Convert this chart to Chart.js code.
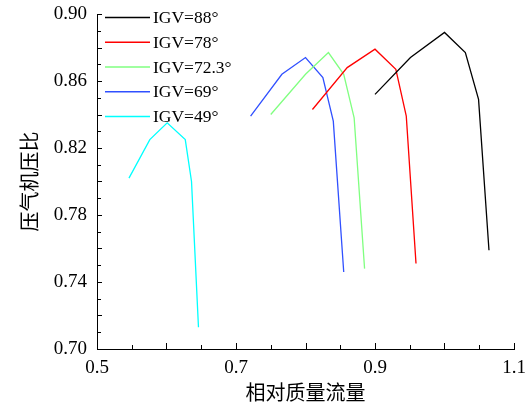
<!DOCTYPE html>
<html>
<head>
<meta charset="utf-8">
<script src="https://cdn.jsdelivr.net/npm/chart.js@4/dist/chart.umd.min.js"></script>
<style>
  html, body { margin: 0; padding: 0; background: #fff; }
  #wrap { width: 531px; height: 410px; }
</style>
</head>
<body>
<div id="wrap"><canvas id="ratio-chart" width="531" height="410"></canvas></div>
<script>
// mass flow / pressure ratio points for each IGV setting
const seriesNames = ['IGV=88°', 'IGV=78°', 'IGV=72.3°', 'IGV=69°', 'IGV=49°'];
const seriesColors = ['#000000', '#ff0000', '#80ff80', '#3050ff', '#00ffff'];

const flow88 = [0.900, 0.951, 1.000, 1.030, 1.049, 1.064];
const ratio88 = [0.852, 0.874, 0.889, 0.877, 0.849, 0.759];

const flow78 = [0.810, 0.860, 0.900, 0.930, 0.945, 0.959];
const ratio78 = [0.843, 0.868, 0.879, 0.867, 0.839, 0.751];

const flow723 = [0.750, 0.800, 0.833, 0.855, 0.870, 0.885];
const ratio723 = [0.840, 0.864, 0.877, 0.864, 0.838, 0.748];

const flow69 = [0.721, 0.766, 0.800, 0.825, 0.840, 0.855];
const ratio69 = [0.839, 0.864, 0.874, 0.862, 0.836, 0.746];

const flow49 = [0.546, 0.576, 0.601, 0.627, 0.636, 0.646];
const ratio49 = [0.802, 0.825, 0.835, 0.825, 0.800, 0.713];

const xTickLabels = [0.5, 0.7, 0.9, 1.1];
const yTickLabels = [0.70, 0.74, 0.78, 0.82, 0.86, 0.90];
const xMinorTicks = [0.5, 0.55, 0.6, 0.65, 0.7, 0.75, 0.8, 0.85, 0.9, 0.95, 1.0, 1.05, 1.1];
const yMinorTicks = [0.70, 0.71, 0.72, 0.73, 0.74, 0.75, 0.76, 0.77, 0.78, 0.79, 0.80,
                     0.81, 0.82, 0.83, 0.84, 0.85, 0.86, 0.87, 0.88, 0.89, 0.90];

const flows = [flow88, flow78, flow723, flow69, flow49];
const ratios = [ratio88, ratio78, ratio723, ratio69, ratio49];

const serif = '"Liberation Serif", "Times New Roman", serif';
const cjk = '"Noto Sans CJK SC", sans-serif';

// inward tick marks on the left and bottom axes
const innerTicks = {
    id: 'innerTicks',
    afterDraw(chart) {
        const ctx = chart.ctx;
        const x = chart.scales.x, y = chart.scales.y;
        const area = chart.chartArea;
        ctx.save();
        ctx.strokeStyle = '#000';
        ctx.lineWidth = 1;
        ctx.beginPath();
        xMinorTicks.forEach((v, i) => {
            const px = Math.round(x.getPixelForValue(v)) + 0.5;
            const len = i % 2 === 0 ? 6 : 4;
            ctx.moveTo(px, area.bottom);
            ctx.lineTo(px, area.bottom - len);
        });
        yMinorTicks.forEach((v, i) => {
            const py = Math.round(y.getPixelForValue(v)) + 0.5;
            const len = i % 2 === 0 ? 5 : 4;
            ctx.moveTo(area.left, py);
            ctx.lineTo(area.left + len, py);
        });
        ctx.stroke();
        ctx.restore();
    }
};

// legend drawn inside the plot, top left
const innerLegend = {
    id: 'innerLegend',
    afterDraw(chart) {
        const ctx = chart.ctx;
        ctx.save();
        ctx.font = '17.5px ' + serif;
        ctx.textBaseline = 'middle';
        ctx.fillStyle = '#000';
        chart.data.datasets.forEach((ds, i) => {
            const cy = 17.5 + i * 24.75;
            ctx.strokeStyle = ds.borderColor;
            ctx.lineWidth = 1.3;
            ctx.beginPath();
            ctx.moveTo(105, cy);
            ctx.lineTo(150, cy);
            ctx.stroke();
            ctx.fillText(ds.label, 153, cy + 1);
        });
        ctx.restore();
    }
};

new Chart(document.querySelector('#ratio-chart').getContext('2d'), {
    type: 'line',
    data: {
        datasets: seriesNames.map((name, i) => ({
            label: name,
            data: flows[i].map((f, j) => ({ x: f, y: ratios[i][j] })),
            borderColor: seriesColors[i],
            backgroundColor: seriesColors[i],
            borderWidth: 1.3,
            pointRadius: 0,
            tension: 0,
            fill: false
        }))
    },
    options: {
        responsive: false,
        animation: false,
        layout: { padding: { left: 17, right: 17, top: 14, bottom: 0 } },
        plugins: {
            legend: { display: false },
            tooltip: { enabled: false }
        },
        scales: {
            x: {
                type: 'linear',
                min: 0.5,
                max: 1.1,
                afterBuildTicks: scale => {
                    scale.ticks = xTickLabels.map(v => ({ value: v }));
                },
                afterFit: scale => {
                    scale.height = 61;
                    scale.paddingLeft = 0;
                    scale.paddingRight = 0;
                },
                grid: { display: true, drawOnChartArea: false, drawTicks: false },
                border: { display: true, color: '#000', width: 1 },
                ticks: {
                    color: '#000',
                    padding: 8,
                    maxRotation: 0,
                    font: { family: serif, size: 19 },
                    callback: v => String(Number(v.toFixed(1)))
                },
                title: {
                    display: true,
                    text: '相对质量流量',
                    color: '#000',
                    font: { family: cjk, size: 20 },
                    padding: { top: 0, bottom: 6 }
                }
            },
            y: {
                type: 'linear',
                min: 0.70,
                max: 0.90,
                afterBuildTicks: scale => {
                    scale.ticks = yTickLabels.map(v => ({ value: v }));
                },
                afterFit: scale => {
                    scale.width = 80;
                    scale.paddingTop = 0;
                    scale.paddingBottom = 0;
                },
                grid: { display: true, drawOnChartArea: false, drawTicks: false },
                border: { display: true, color: '#000', width: 1 },
                ticks: {
                    color: '#000',
                    padding: 10,
                    font: { family: serif, size: 19 },
                    callback: v => v.toFixed(2)
                },
                title: {
                    display: true,
                    text: '压气机压比',
                    color: '#000',
                    font: { family: cjk, size: 20 },
                    padding: { top: 0, bottom: 0 }
                }
            }
        }
    },
    plugins: [innerTicks, innerLegend]
});
</script>
</body>
</html>
